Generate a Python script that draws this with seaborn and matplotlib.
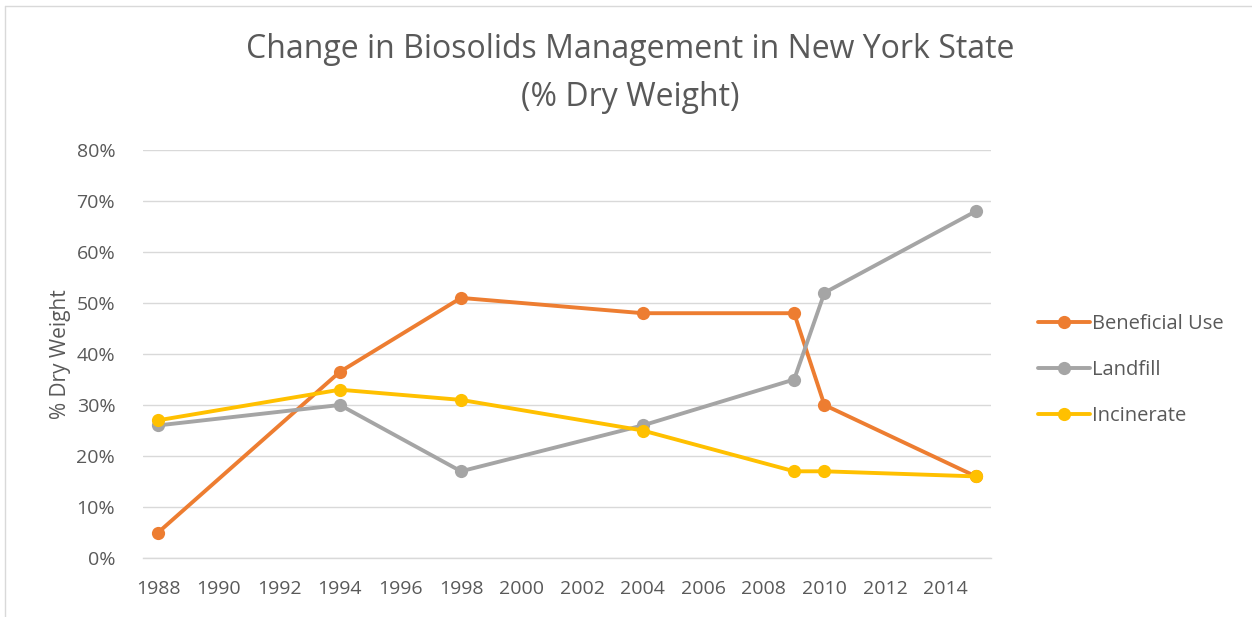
import matplotlib
matplotlib.use('Agg')
import matplotlib.pyplot as plt
from matplotlib.lines import Line2D
from matplotlib.ticker import FuncFormatter, MultipleLocator
import seaborn as sns
import pandas as pd

# data
years = [1988, 1994, 1998, 2004, 2009, 2010, 2015]
beneficial_use = [5, 36.5, 51, 48, 48, 30, 16]
landfill = [26, 30, 17, 26, 35, 52, 68]
incinerate = [27, 33, 31, 25, 17, 17, 16]
series_names = ['Beneficial Use', 'Landfill', 'Incinerate']
tick_years = list(range(1988, 2015, 2))

colors = {'Beneficial Use': '#ED7D31', 'Landfill': '#A5A5A5', 'Incinerate': '#FFC000'}
text_color = '#595959'
grid_color = '#D9D9D9'

df = pd.DataFrame({
    'year': years * 3,
    'value': beneficial_use + landfill + incinerate,
    'series': [s for s in series_names for _ in years],
})

sns.set_style('white')
plt.rcParams['font.family'] = ['Open Sans', 'DejaVu Sans']

fig = plt.figure(figsize=(12.52, 6.17), dpi=100)
ax = fig.add_axes([143 / 1252, 1 - 558 / 617, (991 - 143) / 1252, (558 - 150) / 617])

sns.lineplot(data=df, x='year', y='value', hue='series', palette=colors,
             marker='o', markersize=9.5, markeredgewidth=0, linewidth=2.8,
             legend=False, ax=ax, zorder=3)

ax.set_xlim(1987.5, 2015.5)
ax.set_ylim(0, 80)
ax.yaxis.set_major_locator(MultipleLocator(10))
ax.yaxis.set_major_formatter(FuncFormatter(lambda v, _: f'{v:.0f}%'))
ax.grid(axis='y', color=grid_color, linewidth=1)
ax.set_axisbelow(True)

ax.set_xticks(tick_years)
ax.set_xticklabels([str(y) for y in tick_years])
ax.set_xticks([y - 0.5 for y in range(1988, 2017, 2)], minor=True)
ax.tick_params(axis='x', which='major', length=0, pad=16, labelsize=14, labelcolor=text_color)
ax.tick_params(axis='x', which='minor', length=12, width=1, color=grid_color, direction='inout')
ax.tick_params(axis='y', length=0, pad=20, labelsize=14, labelcolor=text_color)

for side in ['top', 'right', 'left']:
    ax.spines[side].set_visible(False)
ax.spines['bottom'].set_color(grid_color)
ax.spines['bottom'].set_linewidth(1)

ax.set_xlabel('')
ax.set_ylabel('% Dry Weight', fontsize=15, color=text_color, labelpad=4)

fig.text(630 / 1252, 1 - 50 / 617, 'Change in Biosolids Management in New York State',
         ha='center', va='center', fontsize=23, color=text_color)
fig.text(630 / 1252, 1 - 97 / 617, '(% Dry Weight)',
         ha='center', va='center', fontsize=23, color=text_color)

handles = [Line2D([0], [0], color=colors[s], linewidth=2.8, marker='o',
                  markersize=9.5, markeredgewidth=0) for s in series_names]
fig.legend(handles, series_names, loc='center left',
           bbox_to_anchor=(1020 / 1252, 1 - 370 / 617), frameon=False,
           fontsize=14.5, labelcolor=text_color, handlelength=2.6,
           handletextpad=0.1, labelspacing=1.3)

# chart border (only top and left visible in the reference crop)
fig.add_artist(Line2D([5 / 1252, 1], [1 - 6 / 617, 1 - 6 / 617], color=grid_color, linewidth=1))
fig.add_artist(Line2D([5 / 1252, 5 / 1252], [0, 1 - 6 / 617], color=grid_color, linewidth=1))

fig.savefig('out.png', dpi=100)
